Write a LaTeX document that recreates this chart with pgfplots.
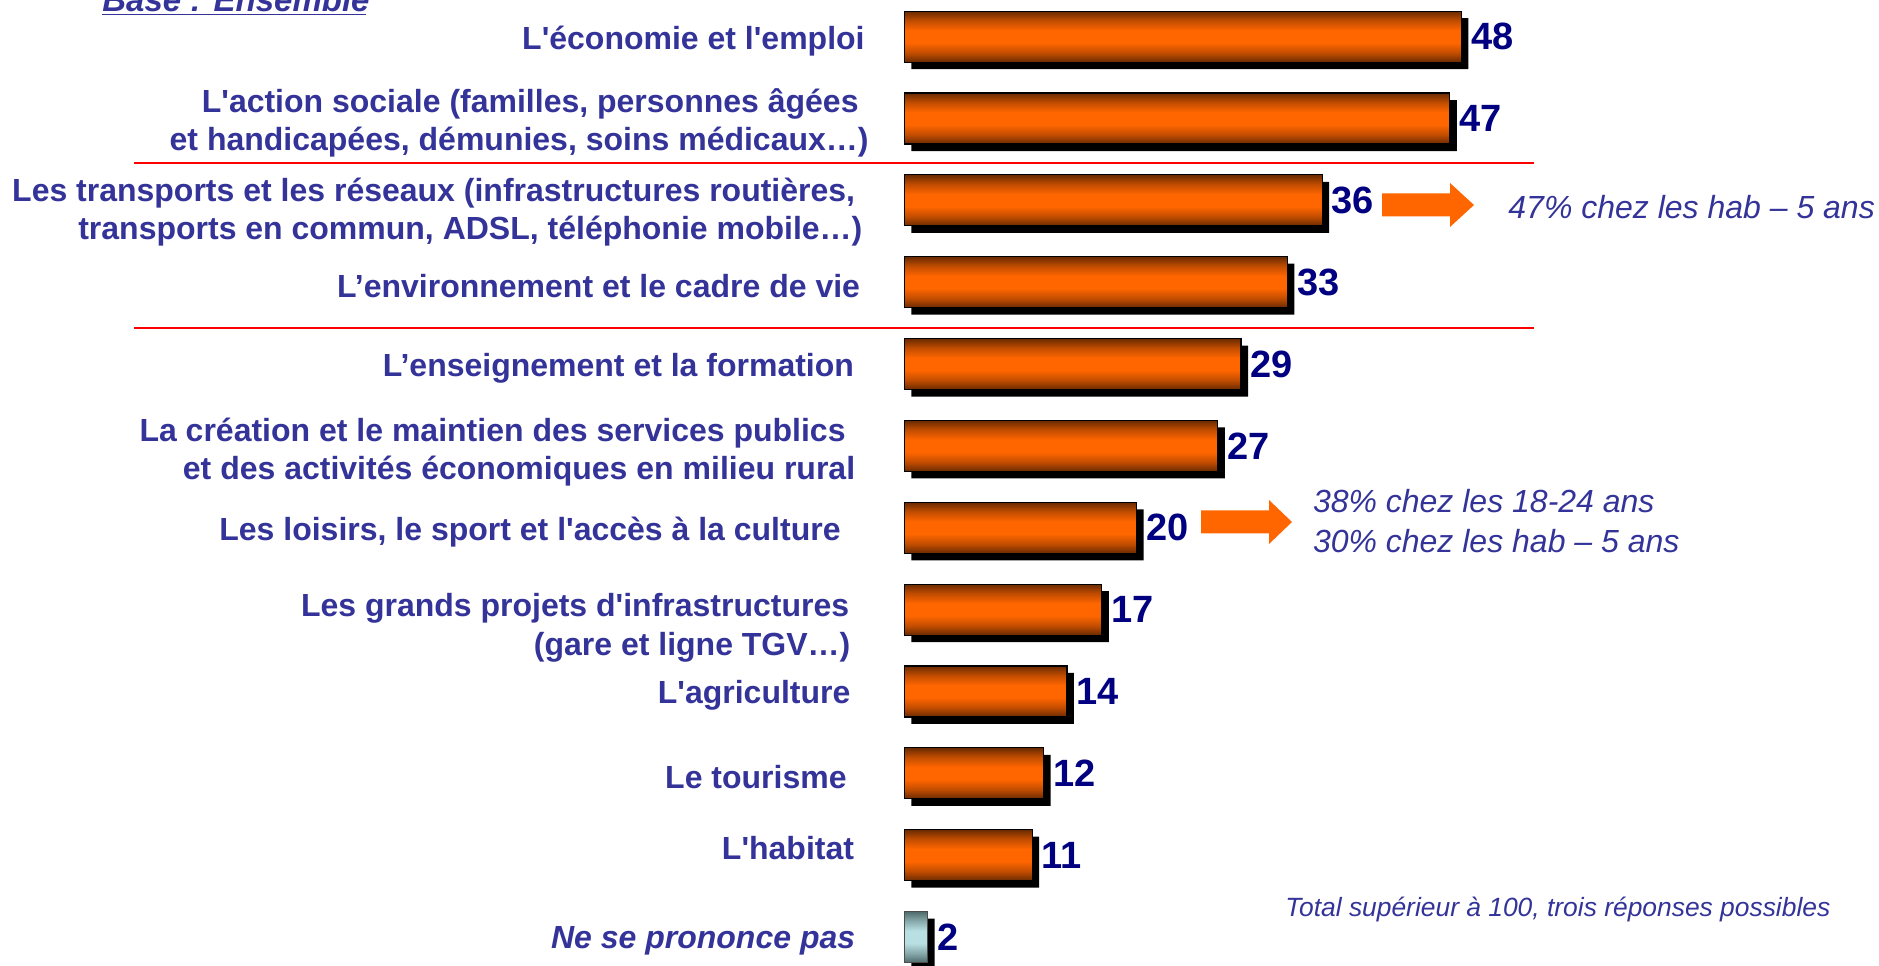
\documentclass[border=0pt]{standalone}
\usepackage{fontspec}
\setmainfont{Liberation Sans}[Ligatures=TeXOff]
\usepackage{pgfplots}
\usepackage{pgfplotstable}
\pgfplotsset{compat=1.18}

\definecolor{catblue}{HTML}{333399}
\definecolor{valnavy}{HTML}{000080}
\definecolor{barorange}{HTML}{FF6600}
\definecolor{barmid}{HTML}{C04C00}
\definecolor{bardark}{HTML}{6A2A00}
\definecolor{greylight}{HTML}{B8E0E2}
\definecolor{greymid}{HTML}{86A8AA}
\definecolor{greydark}{HTML}{4F6B6B}

% vertical gradients for the bars (path is fitted to 25bp..75bp)
\pgfdeclareverticalshading{orangebar}{100bp}{color(0bp)=(bardark); color(25bp)=(bardark); color(34bp)=(barmid); color(44bp)=(barorange); color(56bp)=(barorange); color(66bp)=(barmid); color(75bp)=(bardark); color(100bp)=(bardark)}
\pgfdeclareverticalshading{greybar}{100bp}{color(0bp)=(greydark); color(25bp)=(greydark); color(34bp)=(greymid); color(44bp)=(greylight); color(56bp)=(greylight); color(66bp)=(greymid); color(75bp)=(greydark); color(100bp)=(greydark)}

% all values, used for the drop shadows
\pgfplotstableread{
val idx
48 0
47 1
36 2
33 3
29 4
27 5
20 6
17 7
14 8
12 9
11 10
2 11
}\allbars

\pgfplotsset{
    obar/.style={shading=orangebar, shade, draw=black, line width=0.6pt,
        bar shift=0pt, nodes near coords},
    gbar/.style={shading=greybar, shade, draw=black!70, line width=0.6pt,
        bar shift=0pt, nodes near coords},
}

\begin{document}
\begin{tikzpicture}
\useasboundingbox (0,0) rectangle (939.5pt,482.5pt);
\clip (0,0) rectangle (939.5pt,482.5pt);
\begin{axis}[
    at={(452.25pt,464.15pt)}, anchor=north west,
    scale only axis, width=278.5pt, height=450.15pt,
    xmin=0, xmax=48, ymin=0, ymax=11, y dir=reverse,
    clip=false,
    xbar, bar width=25.5pt,
    axis line style={draw=none},
    major tick length=0pt,
    xtick=\empty,
    ytick={0,...,11},
    yticklabels={
        {L'économie et l'emploi\hspace*{2pt}},
        {L'action sociale (familles, personnes âgées\hspace*{5pt}\\et handicapées, démunies, soins médicaux…)},
        {\rule{0pt}{19.1pt}Les transports et les réseaux (infrastructures routières,\hspace*{6.7pt}\\transports en commun, ADSL, téléphonie mobile…)\hspace*{3.1pt}},
        {L’environnement et le cadre de vie\hspace*{4.3pt}},
        {L’enseignement et la formation\hspace*{7.3pt}},
        {\rule{0pt}{14.2pt}La création et le maintien des services publics\hspace*{11.5pt}\\et des activités économiques en milieu rural\hspace*{6.7pt}},
        {Les loisirs, le sport et l'accès à la culture\hspace*{14pt}},
        {\rule{0pt}{25.7pt}Les grands projets d'infrastructures\hspace*{9.7pt}\\(gare et ligne TGV…)\hspace*{9.1pt}},
        {L'agriculture\hspace*{9.1pt}},
        {Le tourisme\hspace*{11pt}},
        {\rule[-10.8pt]{0pt}{10.8pt}L'habitat\hspace*{7.3pt}},
        {\itshape Ne se prononce pas\hspace*{6.7pt}}
    },
    yticklabel style={anchor=east, inner sep=0pt, xshift=-17.75pt, yshift=-2pt, align=right,
        text=catblue, font=\fontsize{16}{19.15}\selectfont\bfseries},
    point meta=x,
    /pgf/number format/assume math mode=true,
    nodes near coords style={anchor=west, inner sep=0pt, xshift=4.5pt,
        text=valnavy, font=\fontsize{19}{22}\selectfont\bfseries},
]
% shadows
\addplot[fill=black, draw=none, bar shift=0pt, xshift=3.5pt, yshift=-3.5pt, forget plot]
    table[x=val, y=idx] {\allbars};
% bars, one plot each so that every bar gets its own gradient
\addplot[obar] coordinates {(48,0)};
\addplot[obar] coordinates {(47,1)};
\addplot[obar] coordinates {(36,2)};
\addplot[obar] coordinates {(33,3)};
\addplot[obar] coordinates {(29,4)};
\addplot[obar] coordinates {(27,5)};
\addplot[obar] coordinates {(20,6)};
\addplot[obar] coordinates {(17,7)};
\addplot[obar] coordinates {(14,8)};
\addplot[obar] coordinates {(12,9)};
\addplot[obar] coordinates {(11,10)};
\addplot[gbar] coordinates {(2,11)};
\end{axis}

% separators
\draw[red, line width=1pt] (67pt,401pt) -- (767pt,401pt);
\draw[red, line width=1pt] (67pt,318.5pt) -- (767pt,318.5pt);

% arrows
\fill[barorange] (691pt,374.25pt) -- (725pt,374.25pt) -- (725pt,369pt) -- (737pt,380pt)
    -- (725pt,391pt) -- (725pt,385.75pt) -- (691pt,385.75pt) -- cycle;
\fill[barorange] (600.5pt,215.75pt) -- (634.5pt,215.75pt) -- (634.5pt,210.5pt) -- (646pt,221.5pt)
    -- (634.5pt,232.5pt) -- (634.5pt,227.25pt) -- (600.5pt,227.25pt) -- cycle;

% annotations
\begin{scope}[every node/.style={anchor=base west, inner sep=0pt, text=catblue,
        font=\fontsize{16}{19}\selectfont\itshape}]
\node at (754pt,373.2pt) {47\% chez les hab – 5 ans};
\node at (656.3pt,226pt) {38\% chez les 18-24 ans};
\node at (656.3pt,206.5pt) {30\% chez les hab – 5 ans};
\node[font=\fontsize{13.2}{16}\selectfont\itshape] at (642.5pt,24.5pt)
    {Total supérieur à 100, trois réponses possibles};
\node[font=\fontsize{16.5}{20}\selectfont\bfseries\itshape] at (51pt,476.6pt) {Base : Ensemble};
\end{scope}
\draw[catblue, line width=0.8pt] (51pt,475.3pt) -- (183pt,475.3pt);
\end{tikzpicture}
\end{document}
